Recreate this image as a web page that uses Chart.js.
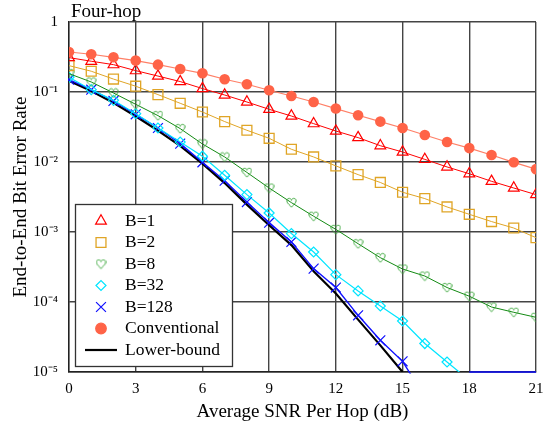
<!DOCTYPE html>
<html>
<head>
<meta charset="utf-8">
<style>
  html, body { margin: 0; padding: 0; background: #fff; }
  #wrap { width: 554px; height: 426px; }
</style>
<script src="https://cdn.jsdelivr.net/npm/chart.js@4/dist/chart.umd.min.js"></script>
</head>
<body>
<div id="wrap"><canvas id="chart" width="554" height="426"></canvas></div>
<script>
// Average SNR per hop (dB)
const snr = [0, 1, 2, 3, 4, 5, 6, 7, 8, 9, 10, 11, 12, 13, 14, 15, 16, 17, 18, 19, 20, 21];

// End-to-end bit error rate for each scheme
const berB1 = [0.31, 0.275, 0.246, 0.202, 0.169, 0.141, 0.112, 0.0906, 0.072, 0.0566, 0.0454,
  0.0353, 0.0277, 0.0223, 0.0171, 0.0139, 0.0109, 0.0085, 0.0068, 0.0053, 0.00425, 0.00342];
const berB2 = [0.238, 0.198, 0.153, 0.121, 0.0918, 0.069, 0.0518, 0.0378, 0.0284, 0.0218, 0.0152,
  0.0118, 0.0088, 0.0066, 0.0051, 0.0037, 0.0030, 0.00228, 0.00179, 0.00141, 0.00114, 0.00083];
const berB8 = [0.183, 0.139, 0.0968, 0.0667, 0.046, 0.030, 0.0181, 0.0118, 0.0071, 0.00425, 0.00263,
  0.00168, 0.00109, 0.00068, 0.00043, 0.000296, 0.000235, 0.000161, 0.000121, 0.0000848, 0.0000713, 0.0000604];
const berB32 = [0.162, 0.108, 0.076, 0.049, 0.0306, 0.0193, 0.0121, 0.00646, 0.00342, 0.00187, 0.00095,
  0.000518, 0.000246, 0.000144, 0.0000877, 0.0000535, 0.0000255, 0.0000139, 0.0000076, null, null, null];
const berB128 = [0.150, 0.108, 0.0744, 0.048, 0.0306, 0.0183, 0.0099, 0.0054, 0.00268, 0.00136, 0.00072,
  0.0003, 0.000161, 0.0000645, 0.0000284, 0.0000142, 0.0000044, null, 0.00001, 0.00001, 0.00001, 0.00001];
const berConventional = [0.373, 0.346, 0.313, 0.281, 0.246, 0.213, 0.185, 0.152, 0.129, 0.106, 0.0877,
  0.072, 0.058, 0.0465, 0.0378, 0.0306, 0.0243, 0.0193, 0.0158, 0.0126, 0.0099, 0.0079];
const berLowerBound = [0.145, 0.103, 0.070, 0.045, 0.028, 0.017, 0.0095, 0.0050, 0.00246, 0.00125, 0.00065,
  0.000275, 0.000132, 0.000056, 0.000024, 0.00001, null, null, null, null, null, null];

const seriesLabels = ['B=1', 'B=2', 'B=8', 'B=32', 'B=128', 'Conventional', 'Lower-bound'];

// Axis ticks
const xTicks = [0, 3, 6, 9, 12, 15, 18, 21];
const yTicks = [1e-5, 1e-4, 1e-3, 1e-2, 1e-1, 1];
const yTickLabels = ['10\u207B\u2075', '10\u207B\u2074', '10\u207B\u00B3', '10\u207B\u00B2', '10\u207B\u00B9', '1'];

const chartTitle = 'Four-hop';
const xTitle = 'Average SNR Per Hop (dB)';
const yTitle = 'End-to-End Bit Error Rate';

const SERIF = '"Liberation Serif", "Times New Roman", serif';
const Y_MIN = 1e-5, Y_MAX = 1;

// Outline heart marker as an image point style
function makeHeart(w, h, color) {
  const c = document.createElement('canvas');
  c.width = w; c.height = h;
  const g = c.getContext('2d');
  g.strokeStyle = color;
  g.lineWidth = 1;
  g.beginPath();
  g.moveTo(w / 2, h * 0.3);
  g.bezierCurveTo(w / 2, h * 0.08, w * 0.06, h * 0.02, w * 0.08, h * 0.36);
  g.bezierCurveTo(w * 0.1, h * 0.6, w * 0.4, h * 0.74, w / 2, h * 0.92);
  g.bezierCurveTo(w * 0.6, h * 0.74, w * 0.9, h * 0.6, w * 0.92, h * 0.36);
  g.bezierCurveTo(w * 0.94, h * 0.02, w / 2, h * 0.08, w / 2, h * 0.3);
  g.stroke();
  return c;
}
const heart = makeHeart(11, 11, '#3ea83e');

// Hide markers that fall on or below the bottom of the axis
const radiusAbove = r => ctx => {
  const v = ctx.raw && typeof ctx.raw === 'object' ? ctx.raw.y : ctx.raw;
  return (v != null && v <= Y_MIN * 1.0001) ? 0 : r;
};

function toPoints(ys) {
  return snr.map((x, i) => ({ x: x, y: ys[i] }));
}

const datasets = [
  { label: seriesLabels[0], data: toPoints(berB1), borderColor: '#ff0000', borderWidth: 1,
    pointStyle: 'triangle', pointRadius: radiusAbove(6.2), pointBorderColor: '#ff0000',
    pointBackgroundColor: 'rgba(0,0,0,0)', pointBorderWidth: 1.2, order: 1 },
  { label: seriesLabels[1], data: toPoints(berB2), borderColor: '#e0a526', borderWidth: 1,
    pointStyle: 'rect', pointRadius: radiusAbove(7), pointBorderColor: '#e0a526',
    pointBackgroundColor: 'rgba(0,0,0,0)', pointBorderWidth: 1.3, order: 2 },
  { label: seriesLabels[2], data: toPoints(berB8), borderColor: '#138a13', borderWidth: 1,
    pointStyle: heart, pointRadius: radiusAbove(5), pointBorderColor: '#3ea83e',
    pointBackgroundColor: 'rgba(0,0,0,0)', order: 3 },
  { label: seriesLabels[3], data: toPoints(berB32), borderColor: '#00e5ff', borderWidth: 1.2,
    pointStyle: 'rectRot', pointRadius: radiusAbove(5), pointBorderColor: '#00e5ff',
    pointBackgroundColor: 'rgba(0,0,0,0)', pointBorderWidth: 1.2, order: 4 },
  { label: seriesLabels[4], data: toPoints(berB128), borderColor: '#1010ff', borderWidth: 1.4,
    pointStyle: 'crossRot', pointRadius: radiusAbove(7), pointBorderColor: '#1010ff',
    pointBorderWidth: 1.2, order: 5, clip: { left: 1, top: 1, right: 1, bottom: 1.5 } },
  { label: seriesLabels[5], data: toPoints(berConventional), borderColor: '#ff7f66', borderWidth: 1.2,
    pointStyle: 'circle', pointRadius: radiusAbove(5.3), pointBorderColor: '#ff6347',
    pointBackgroundColor: '#ff6347', pointBorderWidth: 0, order: 0 },
  { label: seriesLabels[6], data: toPoints(berLowerBound), borderColor: '#000000', borderWidth: 2.2,
    pointRadius: 0, order: 6 }
];

// Title at the top-left corner of the plot
const titlePlugin = {
  id: 'cornerTitle',
  afterDraw(chart) {
    const ctx = chart.ctx, a = chart.chartArea;
    ctx.save();
    ctx.font = '19px ' + SERIF;
    ctx.fillStyle = '#000';
    ctx.textBaseline = 'alphabetic';
    ctx.textAlign = 'left';
    ctx.fillText(chartTitle, a.left + 2, a.top - 5);
    ctx.restore();
  }
};

// Boxed legend in the lower-left corner of the plot
const legendPlugin = {
  id: 'boxLegend',
  afterDraw(chart) {
    const ctx = chart.ctx, a = chart.chartArea;
    const bx = a.left + 6, bw = 157, bh = 162;
    const by = a.bottom - 6 - bh;
    ctx.save();
    ctx.fillStyle = '#fff';
    ctx.fillRect(bx, by, bw, bh);
    ctx.strokeStyle = '#333';
    ctx.lineWidth = 1.3;
    ctx.strokeRect(bx + 0.5, by + 0.5, bw, bh);
    ctx.font = '17.5px ' + SERIF;
    ctx.textBaseline = 'middle';
    ctx.textAlign = 'left';
    const rowH = 21.5;
    const symX = bx + 26, textX = bx + 50;
    chart.data.datasets.forEach((ds, i) => {
      const y = by + 17 + i * rowH;
      if (ds.pointStyle) {
        const r = typeof ds.pointRadius === 'function' ? ds.pointRadius({ raw: { y: 1 } }) : ds.pointRadius;
        ctx.strokeStyle = ds.pointBorderColor;
        ctx.fillStyle = ds.pointBackgroundColor || 'rgba(0,0,0,0)';
        ctx.lineWidth = ds.pointBorderWidth == null ? 1 : ds.pointBorderWidth;
        Chart.helpers.drawPoint(ctx, { pointStyle: ds.pointStyle, radius: r, rotation: 0,
          borderWidth: ctx.lineWidth }, symX, y);
      } else {
        ctx.strokeStyle = ds.borderColor;
        ctx.lineWidth = ds.borderWidth;
        ctx.beginPath();
        ctx.moveTo(bx + 10, y);
        ctx.lineTo(bx + 42, y);
        ctx.stroke();
      }
      ctx.fillStyle = '#000';
      ctx.fillText(ds.label, textX, y);
    });
    ctx.restore();
  }
};

new Chart(document.getElementById('chart'), {
  type: 'line',
  data: { datasets: datasets },
  plugins: [titlePlugin, legendPlugin],
  options: {
    responsive: false,
    devicePixelRatio: 1,
    animation: false,
    spanGaps: false,
    layout: { padding: { left: 0, right: 18, top: 22, bottom: 0 } },
    plugins: { legend: { display: false }, tooltip: { enabled: false }, title: { display: false } },
    scales: {
      x: {
        type: 'linear', min: 0, max: 21,
        afterBuildTicks(scale) { scale.ticks = xTicks.map(v => ({ value: v })); },
        afterFit(scale) { scale.height = 54; },
        grid: { color: '#444', lineWidth: 1.4, drawTicks: false },
        border: { color: '#222', width: 1.4 },
        ticks: { color: '#000', font: { family: SERIF, size: 15 }, padding: 8, maxRotation: 0 },
        title: { display: true, text: xTitle, color: '#000', font: { family: SERIF, size: 19 },
          padding: { top: 0, bottom: 3 } }
      },
      y: {
        type: 'logarithmic', min: Y_MIN, max: Y_MAX,
        afterBuildTicks(scale) { scale.ticks = yTicks.map(v => ({ value: v })); },
        afterFit(scale) { scale.width = 69; },
        grid: { color: '#444', lineWidth: 1.4, drawTicks: false },
        border: { color: '#222', width: 1.4 },
        ticks: {
          color: '#000', font: { family: SERIF, size: 15 }, padding: 11,
          callback(value) { const i = yTicks.indexOf(value); return i >= 0 ? yTickLabels[i] : ''; }
        },
        title: { display: true, text: yTitle, color: '#000', font: { family: SERIF, size: 19 },
          padding: { top: 10, bottom: 0 } }
      }
    }
  }
});
</script>
</body>
</html>
